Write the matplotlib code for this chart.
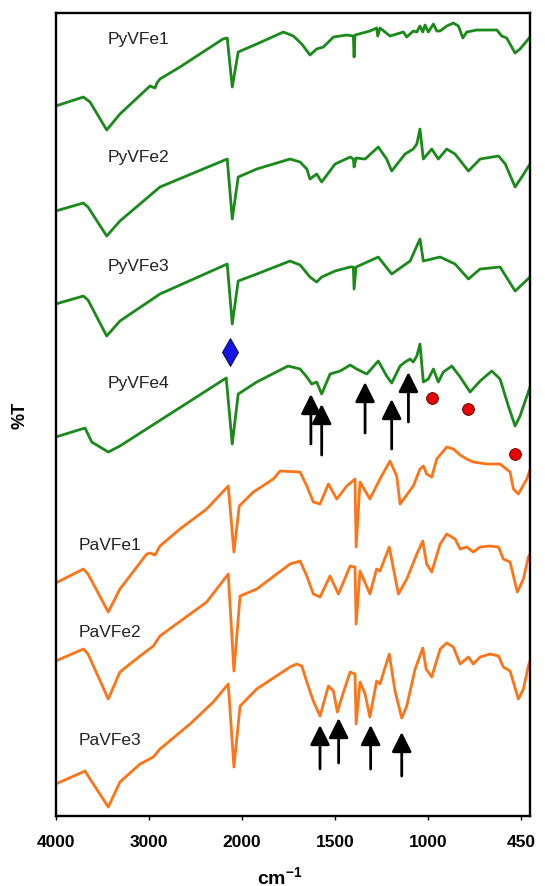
import numpy as np
import matplotlib
matplotlib.use('Agg')
import matplotlib.pyplot as plt

plt.rcParams['font.family'] = ['Liberation Sans', 'DejaVu Sans']
plt.rcParams['mathtext.fontset'] = 'custom'
plt.rcParams['mathtext.bf'] = 'Liberation Sans:bold'
plt.rcParams['mathtext.rm'] = 'Liberation Sans'

# IR spectra (wavenumber in cm-1, transmittance in stacked arbitrary units)
pyvfe1_wn = [4000, 3703, 3631, 3452, 3310, 2987, 2933, 2912, 2880, 2665, 2203, 2157, 2103, 2039,
             1920, 1777, 1723, 1678, 1634, 1598, 1562, 1508, 1436, 1401, 1397, 1392, 1372, 1312,
             1276, 1270, 1258, 1204, 1132, 1114, 1079, 1060, 1043, 1028, 1016, 998, 968, 948,
             928, 889, 850, 820, 794, 771, 712, 593, 564, 535, 485, 456, 407, 397]
pyvfe1_t = [710, 719, 714, 686, 702, 730, 728, 733, 737, 749, 777, 778, 729, 764,
            772, 784, 780, 772, 761, 767, 769, 779, 781, 780, 759, 781, 782, 785,
            788, 780, 788, 780, 784, 779, 785, 784, 790, 784, 791, 784, 792, 785,
            785, 790, 793, 790, 778, 784, 786, 786, 780, 778, 763, 767, 777, 779]

pyvfe2_wn = [4000, 3703, 3653, 3452, 3310, 2880, 2157, 2103, 2039, 1920, 1741, 1687, 1651, 1634,
             1598, 1571, 1499, 1418, 1401, 1397, 1386, 1338, 1267, 1222, 1195, 1123, 1079, 1060,
             1043, 1025, 978, 939, 889, 840, 761, 692, 583, 543, 485, 442, 397]
pyvfe2_t = [605, 613, 609, 580, 595, 629, 657, 597, 639, 647, 657, 654, 647, 637,
            642, 634, 652, 659, 657, 649, 658, 657, 669, 657, 645, 662, 667, 672,
            687, 657, 667, 657, 667, 662, 645, 657, 660, 652, 629, 640, 652]

pyvfe3_wn = [4000, 3703, 3653, 3452, 3310, 2880, 2157, 2103, 2039, 1920, 1741, 1687, 1634, 1598,
             1571, 1499, 1418, 1401, 1397, 1386, 1267, 1195, 1096, 1043, 1025, 928, 840, 761,
             692, 574, 485, 397]
pyvfe3_t = [512, 520, 516, 480, 495, 522, 552, 492, 535, 542, 555, 551, 539, 534,
            539, 545, 549, 549, 527, 549, 559, 542, 555, 577, 555, 559, 552, 537,
            547, 549, 525, 539]

pyvfe4_wn = [4000, 3685, 3613, 3435, 3310, 2168, 2103, 2039, 1920, 1752, 1687, 1651, 1625, 1598,
             1571, 1526, 1472, 1418, 1383, 1329, 1267, 1222, 1195, 1150, 1123, 1096, 1079, 1060,
             1043, 1025, 998, 968, 939, 909, 859, 810, 751, 692, 623, 574, 525, 485, 456, 407, 397]
pyvfe4_t = [379, 388, 374, 364, 370, 438, 372, 422, 434, 450, 447, 439, 432, 434,
            422, 442, 445, 451, 447, 442, 455, 440, 433, 450, 454, 457, 454, 460,
            472, 434, 437, 447, 434, 444, 450, 439, 424, 435, 445, 437, 410, 390, 400, 424, 429]

pavfe1_wn = [4000, 3703, 3653, 3435, 3310, 3022, 2987, 2933, 2880, 2665, 2378, 2146, 2085, 2028,
             1938, 1831, 1795, 1687, 1651, 1616, 1580, 1535, 1490, 1436, 1392, 1386, 1365, 1312,
             1258, 1204, 1168, 1150, 1079, 1043, 1025, 1007, 978, 948, 889, 850, 810, 771, 732,
             652, 574, 515, 495, 466, 416, 397]
pavfe1_t = [233, 247, 242, 204, 227, 262, 263, 261, 270, 287, 307, 330, 264, 310,
            324, 337, 345, 344, 330, 314, 312, 332, 317, 330, 337, 269, 334, 317,
            337, 355, 340, 312, 330, 347, 350, 342, 339, 357, 369, 367, 361, 357, 354,
            352, 352, 344, 327, 322, 337, 346]

pavfe2_wn = [4000, 3703, 3653, 3435, 3310, 3094, 2951, 2880, 2378, 2146, 2085, 2019, 1920, 1741,
             1687, 1651, 1616, 1580, 1526, 1481, 1418, 1392, 1386, 1365, 1312, 1276, 1258, 1208,
             1159, 1114, 1060, 1028, 1007, 978, 928, 889, 840, 810, 771, 732, 692, 633, 583,
             555, 515, 472, 436, 407, 397]
pavfe2_t = [155, 167, 162, 117, 144, 160, 170, 180, 214, 242, 145, 220, 227, 252,
            255, 240, 222, 219, 240, 222, 250, 249, 192, 245, 222, 247, 245, 269,
            222, 237, 262, 275, 252, 244, 272, 282, 277, 267, 269, 264, 269, 270, 269,
            257, 254, 224, 237, 259, 262]

pavfe3_wn = [4000, 3685, 3631, 3435, 3310, 3094, 2951, 2880, 2557, 2307, 2146, 2085, 2019, 1920,
             1741, 1705, 1678, 1651, 1616, 1580, 1535, 1508, 1487, 1454, 1418, 1392, 1386, 1365,
             1338, 1312, 1276, 1258, 1208, 1177, 1141, 1114, 1069, 1028, 1010, 978, 928, 889,
             850, 810, 761, 732, 692, 633, 583, 555, 515, 466, 436, 407, 397]
pavfe3_t = [32, 45, 37, 9, 34, 52, 59, 67, 92, 114, 132, 49, 110, 127,
            149, 152, 150, 134, 115, 100, 130, 125, 104, 124, 144, 142, 92, 134,
            122, 99, 135, 132, 162, 125, 98, 110, 147, 168, 147, 139, 167, 173,
            169, 152, 159, 152, 159, 162, 160, 149, 145, 117, 127, 150, 155]

green_names = ['PyVFe1', 'PyVFe2', 'PyVFe3', 'PyVFe4']
orange_names = ['PaVFe1', 'PaVFe2', 'PaVFe3']
green_label_y = [778, 660, 551, 434]
orange_label_y = [272, 185, 77]

# band markers: arrows (wavenumber, tail, tip)
py_arrows = [(1629, 372, 422), (1571, 361, 412), (1338, 383, 434), (1195, 367, 417), (1105, 394, 444)]
pa_arrows = [(1580, 47, 91), (1480, 53, 98), (1308, 47, 91), (1141, 40, 84)]
cn_band = (2127, 464)
red_dots_wn = [978, 761, 485]
red_dots_t = [418, 407, 362]

xticks = [4000, 3000, 2000, 1500, 1000, 450]


# piecewise x scale: 1000 cm-1 per division above 2000, expanded below
def fwd(w):
    w = np.asarray(w, dtype=float)
    return np.where(w >= 2000, (w - 4000) / 1000,
                    np.where(w >= 1000, -2 + (w - 2000) / 500, -4 + (w - 1000) / 550))


def inv(u):
    u = np.asarray(u, dtype=float)
    return np.where(u >= -2, 4000 + 1000 * u,
                    np.where(u >= -4, 2000 + 500 * (u + 2), 1000 + 550 * (u + 4)))


green = '#1a8a1a'
orange = '#ff7417'

fig = plt.figure(figsize=(5.45, 8.87), dpi=100)
ax = fig.add_axes([0.1022, 0.0789, 0.8703, 0.9053])
ax.set_xscale('function', functions=(fwd, inv))

green_data = [(pyvfe1_wn, pyvfe1_t), (pyvfe2_wn, pyvfe2_t), (pyvfe3_wn, pyvfe3_t), (pyvfe4_wn, pyvfe4_t)]
orange_data = [(pavfe1_wn, pavfe1_t), (pavfe2_wn, pavfe2_t), (pavfe3_wn, pavfe3_t)]

for (wn, t), name, ly in zip(green_data, green_names, green_label_y):
    ax.plot(wn, t, color=green, lw=2.0, solid_joinstyle='round', solid_capstyle='round')
    ax.text(3440, ly, name, fontsize=12.5, va='center', ha='left', color='#222222')

for (wn, t), name, ly in zip(orange_data, orange_names, orange_label_y):
    ax.plot(wn, t, color=orange, lw=2.0, solid_joinstyle='round', solid_capstyle='round')
    ax.text(3757, ly, name, fontsize=12.5, va='center', ha='left', color='#222222')

for wn, tail, tip in py_arrows + pa_arrows:
    ax.annotate('', xy=(wn, tip), xytext=(wn, tail),
                arrowprops=dict(arrowstyle='-|>,head_length=1.0,head_width=0.5', mutation_scale=12,
                                lw=2, color='black', shrinkA=0, shrinkB=0))

ax.plot([cn_band[0]], [cn_band[1]], marker='d', markersize=14, color='#1515e6',
        markeredgecolor='#000033', markeredgewidth=0.6)
ax.plot(red_dots_wn, red_dots_t, 'o', markersize=8.5, color='#e60000',
        markeredgecolor='#550000', markeredgewidth=0.6, linestyle='none')

ax.set_xlim(4000, 397)
ax.set_ylim(0, 803)
ax.set_xticks(xticks)
ax.set_xticklabels([str(v) for v in xticks], fontsize=12.5, fontweight='bold')
ax.xaxis.set_minor_locator(matplotlib.ticker.NullLocator())
ax.set_yticks([])
ax.tick_params(axis='x', direction='out', length=3, width=1, pad=10)
for sp in ax.spines.values():
    sp.set_linewidth(1.7)

ax.set_xlabel(r'$\mathbf{cm^{-1}}$', fontsize=14)
ax.xaxis.set_label_coords(0.473, -0.0747)
ax.xaxis.label.set_va('center')
ax.set_ylabel('%T', fontsize=13, fontweight='bold')
ax.yaxis.set_label_coords(-0.075, 0.5)
ax.yaxis.label.set_va('center')

fig.savefig('out.png', dpi=100)
